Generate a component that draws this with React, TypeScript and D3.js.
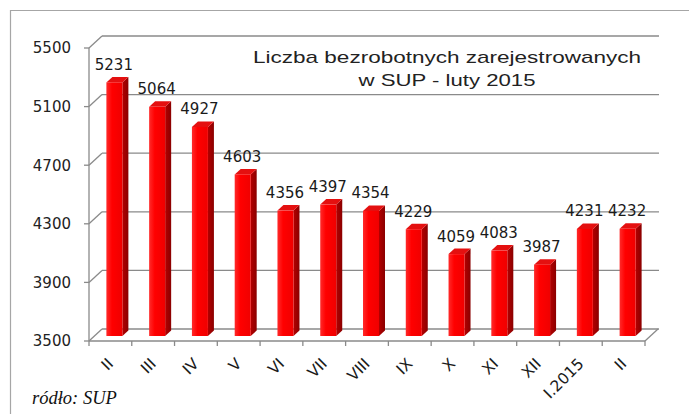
import React from "react";
import * as d3 from "d3";

const categories = ["II", "III", "IV", "V", "VI", "VII", "VIII", "IX", "X", "XI", "XII", "I.2015", "II"];
const values = [5231, 5064, 4927, 4603, 4356, 4397, 4354, 4229, 4059, 4083, 3987, 4231, 4232];
const yTicks = [3500, 3900, 4300, 4700, 5100, 5500];
const titleLines = ["Liczba bezrobotnych zarejestrowanych", "w SUP - luty 2015"];
const sourceText = "ródło: SUP";

const W = 689;
const H = 414;
const X0 = 89;
const X1 = 645;
const YB = 341;
const YT = 48;
const DX = 13;
const DY = -12;

export default function App() {
  const idx = categories.map((_, i) => String(i));
  const x = d3.scaleBand<string>().domain(idx).range([X0, X1]).padding(0);
  const y = d3.scaleLinear().domain([3500, 5500]).range([YB, YT]);
  const bw = x.bandwidth();
  const barW = 16;
  const fOx = 4;
  const fOy = -5;
  const sdx = 6;
  const sdy = -5.5;
  const gridColor = "#8a8a8a";
  const numFont = "'DejaVu Sans', sans-serif";

  const boundaries = d3.range(categories.length + 1).map((i) => X0 + i * bw);

  return (
    <svg
      width={W}
      height={H}
      viewBox={`0 0 ${W} ${H}`}
      style={{ position: "absolute", left: 0, top: 0, background: "#fff" }}
    >
      <defs>
        <linearGradient id="gFront" x1="0" x2="1" y1="0" y2="0">
          <stop offset="0" stopColor="#ff2a2a" />
          <stop offset="0.35" stopColor="#ff0000" />
          <stop offset="1" stopColor="#f00000" />
        </linearGradient>
        <linearGradient id="gSide" x1="0" x2="1" y1="0" y2="0">
          <stop offset="0" stopColor="#b40000" />
          <stop offset="1" stopColor="#8a0000" />
        </linearGradient>
      </defs>
      <rect x={0} y={0} width={W} height={H} fill="#fff" />
      {/* outer border (top + left) */}
      <line x1={10} y1={10.5} x2={W} y2={10.5} stroke="#a6a6a6" strokeWidth={1.2} />
      <line x1={10.5} y1={10} x2={10.5} y2={H} stroke="#a6a6a6" strokeWidth={1.2} />

      {/* back wall gridlines with left-wall diagonals */}
      {yTicks.map((t) => {
        const yy = y(t);
        return (
          <g key={t}>
            <line x1={X0} y1={yy} x2={X0 + DX} y2={yy + DY} stroke={gridColor} strokeWidth={1.3} />
            <line x1={X0 + DX} y1={yy + DY} x2={X1 + DX + 1} y2={yy + DY} stroke={gridColor} strokeWidth={1.3} />
            <line x1={X0 - 5} y1={yy} x2={X0} y2={yy} stroke={gridColor} strokeWidth={1.3} />
            <text
              x={71}
              y={yy}
              dy="0.36em"
              textAnchor="end"
              fontFamily={numFont}
              fontSize={15}
              fill="#222"
            >
              {t}
            </text>
          </g>
        );
      })}
      {/* floor */}
      <line x1={X0} y1={YB} x2={X1} y2={YB} stroke={gridColor} strokeWidth={1.3} />
      <line x1={X1} y1={YB} x2={X1 + DX} y2={YB + DY} stroke={gridColor} strokeWidth={1.3} />
      <line x1={X0} y1={YT} x2={X0} y2={YB} stroke={gridColor} strokeWidth={1.3} />
      {boundaries.map((bx, i) => (
        <line key={i} x1={bx} y1={YB} x2={bx} y2={YB + 5} stroke={gridColor} strokeWidth={1.3} />
      ))}

      {/* bars */}
      {values.map((v, i) => {
        const cx = (x(String(i)) as number) + bw / 2;
        const fl = cx + fOx - barW / 2;
        const fr = fl + barW;
        const top = y(v) + fOy;
        const bot = YB + fOy;
        return (
          <g key={i}>
            <polygon
              points={`${fr},${top} ${fr + sdx},${top + sdy} ${fr + sdx},${bot + sdy} ${fr},${bot}`}
              fill="url(#gSide)"
            />
            <polygon
              points={`${fl},${top} ${fr},${top} ${fr + sdx},${top + sdy} ${fl + sdx},${top + sdy}`}
              fill="#e41010"
            />
            <rect x={fl} y={top} width={barW} height={bot - top} fill="url(#gFront)" />
            <text
              x={fl + barW / 2 - 0.5}
              y={top - 12.5}
              textAnchor="middle"
              fontFamily={numFont}
              fontSize={15}
              fill="#1a1a1a"
            >
              {v}
            </text>
          </g>
        );
      })}

      {/* category labels */}
      {categories.map((c, i) => {
        const cx = (x(String(i)) as number) + bw / 2;
        return (
          <text
            key={i}
            x={cx}
            y={361}
            dy="0.35em"
            textAnchor="end"
            transform={`rotate(-45, ${cx}, 361)`}
            fontFamily={numFont}
            fontSize={15.5}
            fill="#1a1a1a"
          >
            {c}
          </text>
        );
      })}

      {/* title */}
      <text
        x={447}
        y={63}
        textAnchor="middle"
        fontFamily="'Liberation Sans', Arial, sans-serif"
        fontSize={17}
        fill="#222"
        textLength={388}
        lengthAdjust="spacingAndGlyphs"
      >
        {titleLines[0]}
      </text>
      <text
        x={447}
        y={86}
        textAnchor="middle"
        fontFamily="'Liberation Sans', Arial, sans-serif"
        fontSize={17}
        fill="#222"
        textLength={177}
        lengthAdjust="spacingAndGlyphs"
      >
        {titleLines[1]}
      </text>

      {/* source */}
      <text
        x={32}
        y={404}
        fontFamily="'Liberation Serif', 'Times New Roman', serif"
        fontStyle="italic"
        fontSize={18.5}
        fill="#111"
      >
        {sourceText}
      </text>
    </svg>
  );
}
